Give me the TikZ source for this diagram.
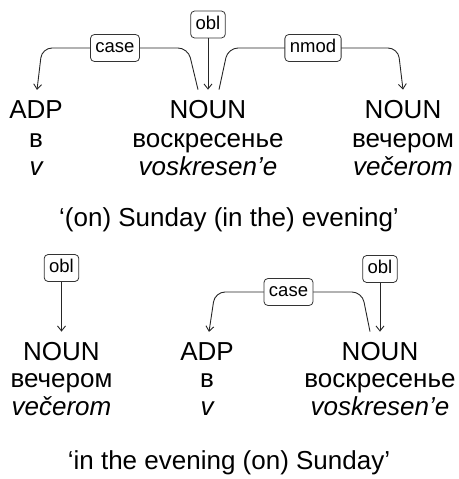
\documentclass[tikz,border=0pt]{standalone}
\usepackage{fontspec}
\setmainfont{Liberation Sans}
\usetikzlibrary{arrows.meta}
\begin{document}
\begin{tikzpicture}[x=1pt,y=-1pt,
  word/.style={font=\fontsize{26}{28}\selectfont, anchor=base, inner sep=0pt},
  gloss/.style={word, font=\fontsize{26}{28}\selectfont\itshape},
  lab/.style={draw=black!80, line width=0.8pt, rounded corners=4pt, fill=white,
    font=\fontsize{18.5}{20}\selectfont, inner xsep=5pt, inner ysep=4.25pt,
    text height=14pt, text depth=4.5pt},
  link/.style={draw=black!85, line width=0.9pt, rounded corners=10pt},
  tip/.style={-{Straight Barb[length=5pt,width=8pt]}}]
\useasboundingbox (0,0) rectangle (458,479);

% ---- first sentence: v voskresen'e vecherom ----
\node[word]  (a1)  at (36,118)  {ADP};
\node[word]  (a1w) at (36,147)  {в};
\node[gloss] (a1g) at (36,175)  {v};
\node[word]  (a2)  at (208,118) {NOUN};
\node[word]  (a2w) at (208,147) {воскресенье};
\node[gloss] (a2g) at (208,175) {voskresen'e};
\node[word]  (a3)  at (403,118) {NOUN};
\node[word]  (a3w) at (403,147) {вечером};
\node[gloss] (a3g) at (403,175) {večerom};

\node[lab] (o1) at (208,24.5) {obl};
\draw[link,tip] (o1) -- ([yshift=10pt]a2.north);
\draw[link,tip] ([xshift=-10pt,yshift=10pt]a2.north) -- (188,48)
  -- node[lab] (c1) {case} (42,48) -- ([xshift=1pt,yshift=10pt]a1.north);
\draw[link,tip] ([xshift=11pt,yshift=10pt]a2.north) -- (228,48)
  -- node[lab] (n1) {nmod} (398,48) -- ([yshift=10pt]a3.north);

\node[word] (tr1) at (229,226) {‘(on) Sunday (in the) evening’};

% ---- second sentence: vecherom v voskresen'e ----
\node[word]  (b1)  at (61.5,360) {NOUN};
\node[word]  (b1w) at (61.5,387) {вечером};
\node[gloss] (b1g) at (61.5,415) {večerom};
\node[word]  (b2)  at (207,360)  {ADP};
\node[word]  (b2w) at (207,387)  {в};
\node[gloss] (b2g) at (207,415)  {v};
\node[word]  (b3)  at (380,360)  {NOUN};
\node[word]  (b3w) at (380,387)  {воскресенье};
\node[gloss] (b3g) at (380,415)  {voskresen'e};

\node[lab] (o2) at (61.5,268) {obl};
\draw[link,tip] (o2) -- ([yshift=10pt]b1.north);
\node[lab] (o3) at (380,269) {obl};
\draw[link,tip] (o3) -- ([yshift=10pt]b3.north);
\draw[link,tip] ([xshift=-10pt,yshift=10pt]b3.north) -- (362,292)
  -- node[lab] (c2) {case} (215,292) -- ([xshift=2pt,yshift=10pt]b2.north);

\node[word] (tr2) at (229,469) {‘in the evening (on) Sunday’};
\end{tikzpicture}
\end{document}
